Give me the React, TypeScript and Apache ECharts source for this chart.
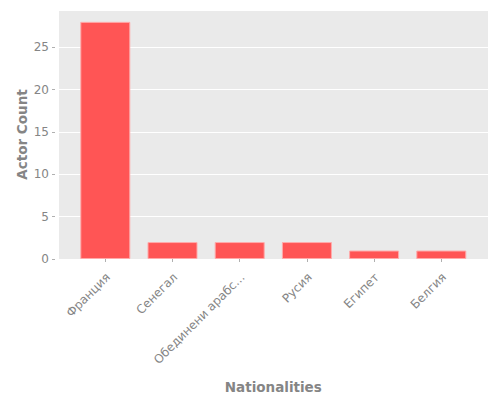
import React, { useEffect, useRef } from 'react';
import * as echarts from 'echarts';

const nationalities = ['Франция', 'Сенегал', 'Обединени арабс...', 'Русия', 'Египет', 'Белгия'];
const actorCounts = [28, 2, 2, 2, 1, 1];
const yTicks = [0, 5, 10, 15, 20, 25];
const yMax = 29.4;

const textGray = '#858585';
const font = 'DejaVu Sans';

const App = () => {
  const chartRef = useRef(null);

  useEffect(() => {
    document.body.style.margin = '0';
    const chart = echarts.init(chartRef.current, null, { renderer: 'svg' });

    const options = {
      animation: false,
      textStyle: { fontFamily: font },
      grid: [
        // background + y grid
        { left: 59, right: 12, top: 10, bottom: 141, show: true, backgroundColor: '#eaeaea', borderWidth: 0 },
        // bars
        { left: 71.7, right: 25.1, top: 10, bottom: 141 },
      ],
      xAxis: [
        { gridIndex: 0, type: 'category', data: nationalities, show: false },
        {
          gridIndex: 1,
          type: 'category',
          data: nationalities,
          offset: 4,
          axisLine: { show: false },
          axisTick: { show: true, alignWithLabel: true, length: 3, lineStyle: { color: '#b0b0b0' } },
          axisLabel: {
            interval: 0,
            rotate: 45,
            color: textGray,
            fontSize: 12,
            fontFamily: font,
            margin: 15,
            padding: [0, -4, 0, 0],
          },
          name: 'Nationalities',
          nameLocation: 'middle',
          nameGap: 117,
          nameMoveOverlap: false,
          nameTextStyle: { color: textGray, fontSize: 13.5, fontWeight: 'bold', fontFamily: font },
        },
      ],
      yAxis: [
        {
          gridIndex: 0,
          type: 'value',
          min: 0,
          max: yMax,
          interval: 5,
          offset: 4,
          axisLine: { show: false },
          axisTick: { show: true, length: 3, lineStyle: { color: '#b0b0b0' } },
          splitLine: { show: true, lineStyle: { color: '#ffffff', width: 1 } },
          axisLabel: {
            color: textGray,
            fontSize: 12,
            fontFamily: font,
            margin: 6,
            showMaxLabel: false,
            formatter: (v: number) => (yTicks.includes(v) ? String(v) : ''),
          },
          name: 'Actor Count',
          nameLocation: 'middle',
          nameGap: 26,
          nameMoveOverlap: false,
          nameTextStyle: { color: textGray, fontSize: 13.5, fontWeight: 'bold', fontFamily: font },
        },
        {
          gridIndex: 1,
          type: 'value',
          min: 0,
          max: yMax,
          show: false,
        },
      ],
      series: [
        {
          type: 'bar',
          xAxisIndex: 1,
          yAxisIndex: 1,
          data: actorCounts,
          barWidth: 50,
          itemStyle: { color: '#ff5555', borderColor: '#ffaaaa', borderWidth: 1 },
        },
      ],
    };

    chart.setOption(options);

    return () => {
      chart.dispose();
    };
  }, []);

  return <div ref={chartRef} style={{ width: '500px', height: '400px' }}></div>;
};

export default App;
